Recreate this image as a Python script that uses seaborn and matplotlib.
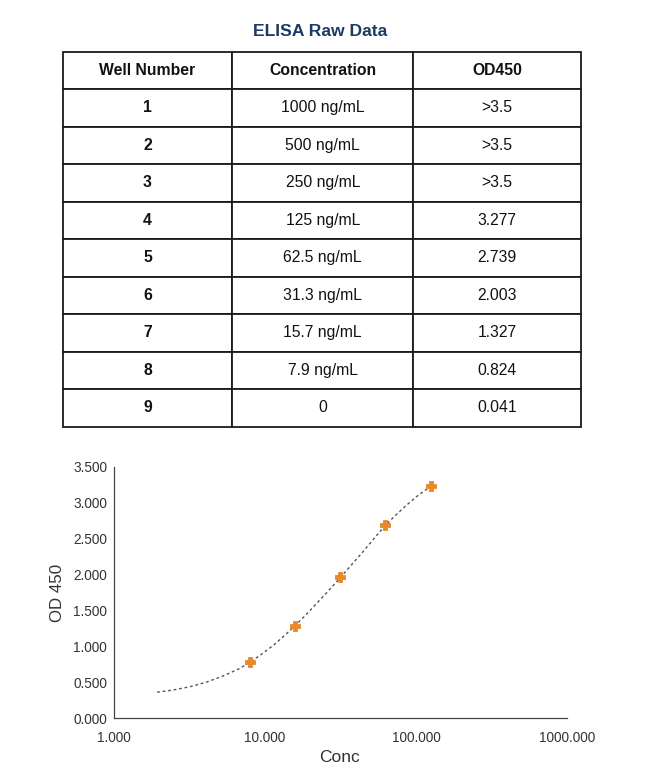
import numpy as np
import pandas as pd
import matplotlib
matplotlib.use("Agg")
import matplotlib.pyplot as plt
from matplotlib.ticker import FixedLocator, FormatStrFormatter
import seaborn as sns

sns.set_style("white")
plt.rcParams['font.family'] = ['Liberation Sans', 'DejaVu Sans']

# table data
wells = ["1", "2", "3", "4", "5", "6", "7", "8", "9"]
concs = ["1000 ng/mL", "500 ng/mL", "250 ng/mL", "125 ng/mL", "62.5 ng/mL",
         "31.3 ng/mL", "15.7 ng/mL", "7.9 ng/mL", "0"]
od450 = [">3.5", ">3.5", ">3.5", "3.277", "2.739", "2.003", "1.327", "0.824", "0.041"]
headers = ["Well Number", "Concentration", "OD450"]

# plotted standards (blank subtracted)
pt_conc = [7.9, 15.7, 31.3, 62.5, 125]
pt_od = [0.783, 1.286, 1.962, 2.698, 3.236]

# fitted curve
fit_conc = [1.93, 2.46, 3.17, 4.09, 5.27, 6.79, 7.9, 9.5, 11.3, 13.3, 15.7,
            18.5, 21.8, 26.2, 31.3, 37.2, 44.2, 52.6, 62.5, 73.5, 86.8, 104, 125]
fit_od = [0.36, 0.39, 0.435, 0.50, 0.585, 0.69, 0.775, 0.89, 1.01, 1.14, 1.28,
          1.43, 1.59, 1.77, 1.95, 2.13, 2.31, 2.50, 2.685, 2.83, 2.97, 3.11, 3.23]

W, H = 650, 777
fig = plt.figure(figsize=(6.5, 7.77), dpi=100)

fig.text(320.5 / W, 1 - 31 / H, "ELISA Raw Data", ha="center", va="center",
         fontsize=12.6, fontweight="bold", color="#1d3a63")

# table
tax = fig.add_axes([62.7 / W, 1 - 426.7 / H, 518 / W, 375 / H])
tax.axis("off")
rows = [[w, c, o] for w, c, o in zip(wells, concs, od450)]
tbl = tax.table(cellText=rows, colLabels=headers, cellLoc="center",
                colWidths=[169.6, 181, 167.4], bbox=[0, 0, 1, 1])
tbl.auto_set_font_size(False)
for (r, c), cell in tbl.get_celld().items():
    cell.set_linewidth(1.3)
    cell.set_edgecolor("#1a1a1a")
    txt = cell.get_text()
    txt.set_fontsize(11.3)
    txt.set_color("#111111")
    if r == 0 or c == 0:
        txt.set_fontweight("bold")

# chart
ax = fig.add_axes([114 / W, 1 - 718 / H, 453 / W, 251 / H])
fit_df = pd.DataFrame({"Conc": fit_conc, "OD": fit_od})
pt_df = pd.DataFrame({"Conc": pt_conc, "OD": pt_od})
sns.lineplot(data=fit_df, x="Conc", y="OD", ax=ax, color="#555555",
             linewidth=1.0, linestyle=(0, (2, 2)))
sns.scatterplot(data=pt_df, x="Conc", y="OD", ax=ax, marker="P", s=44,
                color="#e8892b", edgecolor="#e8892b", linewidth=0.6, zorder=3)

ax.set_xscale("log")
ax.set_xlim(1, 1000)
ax.set_ylim(0, 3.5)
ax.xaxis.set_major_locator(FixedLocator([1, 10, 100, 1000]))
ax.xaxis.set_minor_locator(FixedLocator([]))
ax.xaxis.set_major_formatter(FormatStrFormatter("%.3f"))
ax.yaxis.set_major_locator(FixedLocator(np.arange(0, 3.51, 0.5)))
ax.yaxis.set_major_formatter(FormatStrFormatter("%.3f"))
ax.tick_params(axis="both", labelsize=9.8, labelcolor="#333333", color="#444444",
               length=3, width=0.9, direction="out", pad=2)
ax.tick_params(axis="x", pad=6)
for side in ["top", "right"]:
    ax.spines[side].set_visible(False)
for side in ["left", "bottom"]:
    ax.spines[side].set_color("#444444")
    ax.spines[side].set_linewidth(0.9)
ax.set_xlabel("")
ax.set_ylabel("")
fig.text(340 / W, 1 - 757.5 / H, "Conc", ha="center", va="center",
         fontsize=12.5, color="#333333")
fig.text(57.5 / W, 1 - 592.5 / H, "OD 450", ha="center", va="center",
         rotation=90, fontsize=12.2, color="#333333")

fig.savefig("out.png", dpi=100)
